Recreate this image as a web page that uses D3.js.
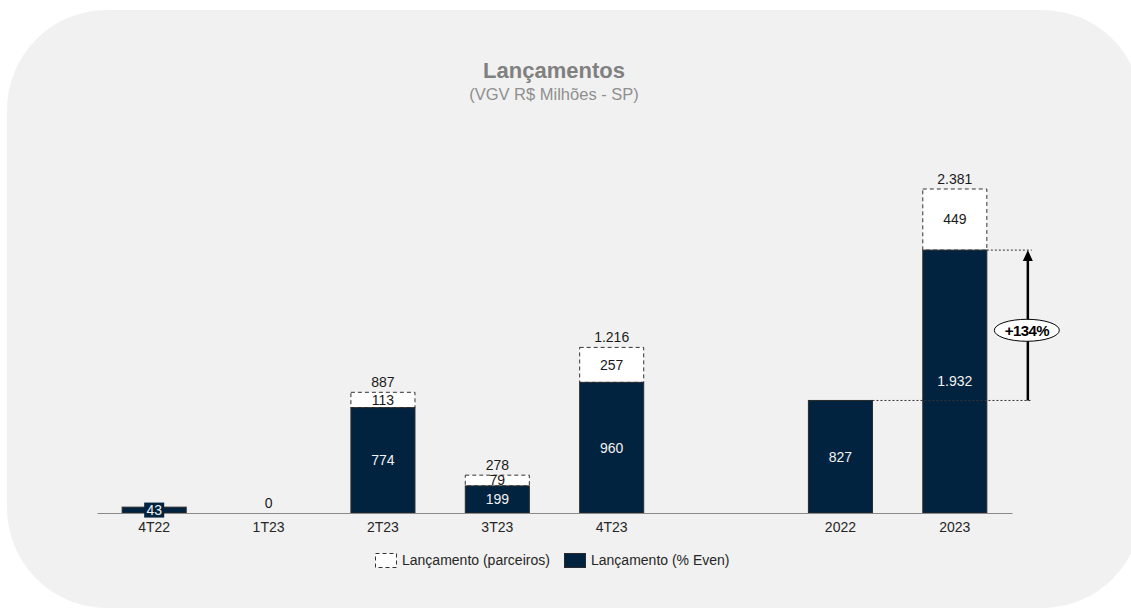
<!DOCTYPE html>
<html>
<head>
<meta charset="utf-8">
<script src="https://cdn.jsdelivr.net/npm/d3@7"></script>
<style>
  body { margin: 0; background: #fff; }
  svg { display: block; font-family: 'Liberation Sans', Arial, sans-serif; }
</style>
</head>
<body>
<script>
const categories = ['4T22', '1T23', '2T23', '3T23', '4T23', 'gap', '2022', '2023'];
const evenValues = [43, 0, 774, 199, 960, null, 827, 1932];
const partnerValues = [0, 0, 113, 79, 257, null, 0, 449];
const totalValues = [null, 0, 887, 278, 1216, null, null, 2381];
const legendLabels = ['Lançamento (parceiros)', 'Lançamento (% Even)'];
const growthLabel = '+134%';

const width = 1131;
const height = 608;
const navy = '#02233f';

const locale = d3.formatLocale({ decimal: ',', thousands: '.', grouping: [3], currency: ['R$', ''] });
const fmt = locale.format(',d');

const svg = d3.select('body').append('svg')
  .attr('width', width)
  .attr('height', height);

svg.append('rect')
  .attr('x', 7)
  .attr('y', 10)
  .attr('width', 1135)
  .attr('height', 598)
  .attr('rx', 100)
  .attr('fill', '#f1f1f1');

svg.append('text')
  .attr('x', 554)
  .attr('y', 78)
  .attr('text-anchor', 'middle')
  .attr('fill', '#808080')
  .style('font-size', '22px')
  .style('font-weight', 'bold')
  .text('Lançamentos');

svg.append('text')
  .attr('x', 554)
  .attr('y', 100)
  .attr('text-anchor', 'middle')
  .attr('fill', '#8f8f8f')
  .style('font-size', '16.5px')
  .text('(VGV R$ Milhões - SP)');

const x = d3.scaleBand()
  .domain(categories)
  .range([97, 1012])
  .paddingInner(0.44)
  .paddingOuter(0.22);

const y = d3.scaleLinear()
  .domain([0, 2381])
  .range([513, 189]);

const data = categories.map((c, i) => ({
  cat: c,
  even: evenValues[i],
  partner: partnerValues[i],
  total: totalValues[i],
})).filter(d => d.even !== null);

const bars = svg.append('g');

// partner segment (dashed, on top of the navy bar)
bars.selectAll('rect.partner')
  .data(data.filter(d => d.partner > 0))
  .enter().append('rect')
  .attr('class', 'partner')
  .attr('x', d => x(d.cat))
  .attr('y', d => y(d.even + d.partner))
  .attr('width', x.bandwidth())
  .attr('height', d => y(d.even) - y(d.even + d.partner))
  .attr('fill', '#fff')
  .attr('stroke', '#333')
  .attr('stroke-width', 1)
  .attr('stroke-dasharray', '4,3');

bars.selectAll('rect.even')
  .data(data.filter(d => d.even > 0))
  .enter().append('rect')
  .attr('class', 'even')
  .attr('x', d => x(d.cat))
  .attr('y', d => y(d.even))
  .attr('width', x.bandwidth())
  .attr('height', d => y(0) - y(d.even))
  .attr('fill', navy)
  .attr('stroke', '#2a2a2a')
  .attr('stroke-width', 1);

// axis
const xAxis = svg.append('g')
  .attr('transform', `translate(0, ${y(0)})`)
  .call(d3.axisBottom(x).tickSize(0).tickSizeOuter(0).tickPadding(9)
    .tickFormat(d => (d === 'gap' ? '' : d)));
xAxis.select('.domain').attr('stroke', '#8a8a8a');
xAxis.selectAll('text')
  .attr('fill', '#262626')
  .style('font-size', '14px')
  .style('font-family', "'Liberation Sans', Arial, sans-serif");

// labels inside navy bars
const evenLabels = svg.append('g');
data.filter(d => d.even > 0).forEach((d) => {
  const cx = x(d.cat) + x.bandwidth() / 2;
  const cy = (y(d.even) + y(0)) / 2;
  const small = y(0) - y(d.even) < 16;
  if (small) {
    evenLabels.append('rect')
      .attr('x', cx - 10)
      .attr('y', cy - 7.5)
      .attr('width', 20)
      .attr('height', 15)
      .attr('fill', navy);
  }
  evenLabels.append('text')
    .attr('x', cx)
    .attr('y', cy)
    .attr('dy', '0.35em')
    .attr('text-anchor', 'middle')
    .attr('fill', '#f2f2f2')
    .style('font-size', '14px')
    .text(fmt(d.even));
});

// labels inside partner segments
svg.append('g').selectAll('text')
  .data(data.filter(d => d.partner > 0))
  .enter().append('text')
  .attr('x', d => x(d.cat) + x.bandwidth() / 2)
  .attr('y', d => (y(d.even) + y(d.even + d.partner)) / 2)
  .attr('dy', '0.35em')
  .attr('text-anchor', 'middle')
  .attr('fill', '#1a1a1a')
  .style('font-size', '14px')
  .text(d => fmt(d.partner));

// totals above
svg.append('g').selectAll('text')
  .data(data.filter(d => d.total !== null))
  .enter().append('text')
  .attr('x', d => x(d.cat) + x.bandwidth() / 2)
  .attr('y', d => y(d.total) - 5.5)
  .attr('text-anchor', 'middle')
  .attr('fill', '#1a1a1a')
  .style('font-size', '14px')
  .text(d => fmt(d.total));

// growth annotation 2022 -> 2023
const prev = data.find(d => d.cat === '2022');
const curr = data.find(d => d.cat === '2023');
const lineEnd = x('2023') + x.bandwidth() + 45;
const arrowX = x('2023') + x.bandwidth() + 41;
const ann = svg.append('g');

ann.append('line')
  .attr('x1', x('2022') + x.bandwidth())
  .attr('x2', lineEnd)
  .attr('y1', y(prev.even))
  .attr('y2', y(prev.even))
  .attr('stroke', '#333')
  .attr('stroke-dasharray', '2,2');

ann.append('line')
  .attr('x1', x('2023') + x.bandwidth())
  .attr('x2', lineEnd)
  .attr('y1', y(curr.even))
  .attr('y2', y(curr.even))
  .attr('stroke', '#333')
  .attr('stroke-dasharray', '2,2');

ann.append('line')
  .attr('x1', arrowX)
  .attr('x2', arrowX)
  .attr('y1', y(prev.even))
  .attr('y2', y(curr.even) + 9)
  .attr('stroke', '#000')
  .attr('stroke-width', 2.5);

ann.append('path')
  .attr('d', `M${arrowX},${y(curr.even)} l-5,11 l10,0 z`)
  .attr('fill', '#000');

const midY = (y(prev.even) + y(curr.even)) / 2 + 5;
ann.append('ellipse')
  .attr('cx', arrowX - 1)
  .attr('cy', midY)
  .attr('rx', 32.5)
  .attr('ry', 11)
  .attr('fill', '#fff')
  .attr('stroke', '#000')
  .attr('stroke-width', 1);

ann.append('text')
  .attr('x', arrowX - 1)
  .attr('y', midY)
  .attr('dy', '0.35em')
  .attr('text-anchor', 'middle')
  .attr('fill', '#000')
  .style('font-size', '15px')
  .style('font-weight', 'bold')
  .style('letter-spacing', '-0.6px')
  .text(growthLabel);

// legend
const legend = svg.append('g').attr('transform', 'translate(375, 553)');
const legendX = [0, 189];
legendLabels.forEach((label, i) => {
  const g = legend.append('g').attr('transform', `translate(${legendX[i]}, 0)`);
  g.append('rect')
    .attr('x', 0.5)
    .attr('y', 0.5)
    .attr('width', 21)
    .attr('height', 14)
    .attr('fill', i === 0 ? '#fff' : navy)
    .attr('stroke', i === 0 ? '#333' : '#2a2a2a')
    .attr('stroke-dasharray', i === 0 ? '4,3' : null);
  g.append('text')
    .attr('x', 27)
    .attr('y', 7.5)
    .attr('dy', '0.35em')
    .attr('fill', '#262626')
    .style('font-size', '14px')
    .text(label);
});
</script>
</body>
</html>
